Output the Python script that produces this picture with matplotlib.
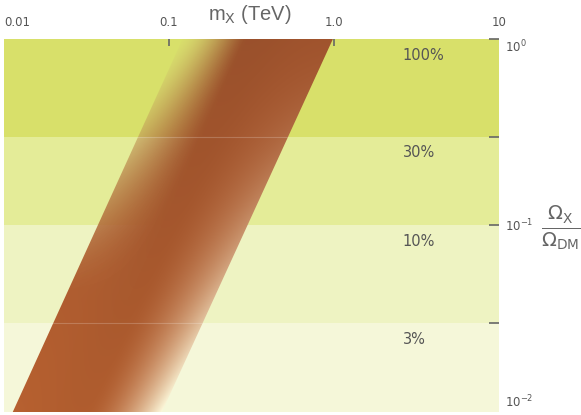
import numpy as np
import matplotlib
matplotlib.use("Agg")
import matplotlib.pyplot as plt
from matplotlib.patches import Polygon

# ---- data ----
band_low = [0.3, 0.1, 0.03, 0.01]
band_high = [1.0, 0.3, 0.1, 0.03]
band_labels = ["100%", "30%", "10%", "3%"]
band_colors = ["#d8e06a", "#e4ec98", "#eef3c2", "#f5f7d9"]

omega_edges = [0.01, 1.0]          # Omega_X / Omega_DM at band ends
mass_left = [0.0113, 0.121]        # TeV, left edge of allowed strip
mass_right = [0.0905, 0.985]       # TeV, right edge of allowed strip

xticks = [0.1, 1.0]
xlabel_pos = [0.01, 0.1, 1.0, 10]
xticklabels = ["0.01", "0.1", "1.0", "10"]
yticks = [1.0, 0.3, 0.1, 0.03]
ytick_labels = {1.0: r"$10^{0}$", 0.1: r"$10^{-1}$", 0.01: r"$10^{-2}$"}

fig = plt.figure(figsize=(5.81, 4.15), dpi=100)
ax = fig.add_axes([4/581, 3/415, 495/581, 373/415])
ax.set_xscale("log")
ax.set_yscale("log")
ax.set_xlim(0.01, 10)
ax.set_ylim(0.01, 1.0)
ax.set_autoscale_on(False)

for lo, hi, c in zip(band_low, band_high, band_colors):
    ax.axhspan(lo, hi, color=c, lw=0, zorder=0)
for lab, hi in zip(band_labels, band_high):
    ax.text(2.6, hi * 0.82, lab, ha="left", va="center", fontsize=10.5,
            color="#555555", zorder=5)

# ---- gradient strip ----
ny, nx = 600, 900
X = np.linspace(-2, 1, nx)
Y = np.linspace(-2, 0, ny)
XX, YY = np.meshgrid(X, Y)
ly0, ly1 = np.log10(omega_edges)
v = np.clip((YY - ly0) / (ly1 - ly0), 0, 1)
lx = np.log10(mass_left[0]) + v * (np.log10(mass_left[1]) - np.log10(mass_left[0]))
rx = np.log10(mass_right[0]) + v * (np.log10(mass_right[1]) - np.log10(mass_right[0]))
u = (XX - lx) / (rx - lx)

top = np.array([0.63, 0.33, 0.18])
bot = np.array([0.72, 0.38, 0.19])
vv = v[..., None]
col = bot * (1 - vv) + top * vv
centre = 1 - 0.04 * np.exp(-((u - 0.45) / 0.3) ** 2)
col = col * centre[..., None]

# bottom-right fade to cream
w = (np.clip((u - 0.5) / 0.5, 0, 1) ** 1.8) * (1 - v) ** 1.6
cream = np.array([0.99, 0.975, 0.86])
col = col * (1 - w[..., None]) + cream * w[..., None]

# top-left fade toward the background
f = (np.clip((0.42 - u) / 0.42, 0, 1) ** 1.3) * (np.clip((v - 0.3) / 0.7, 0, 1) ** 1.5)
light = np.array([0.84, 0.80, 0.47])
col = col * (1 - f[..., None]) + light * f[..., None]
alpha = 1 - 0.9 * f
alpha = np.where((u >= -0.01) & (u <= 1.01), alpha, 0.0)

img = np.dstack([np.clip(col, 0, 1), alpha])
im = ax.imshow(img, extent=[0, 1, 0, 1], transform=ax.transAxes, origin="lower",
               aspect="auto", interpolation="bilinear", zorder=2)
poly = Polygon([(mass_left[0], omega_edges[0]), (mass_left[1], omega_edges[1]),
                (mass_right[1], omega_edges[1]), (mass_right[0], omega_edges[0])],
               closed=True, transform=ax.transData, facecolor="none", edgecolor="none")
ax.add_patch(poly)
im.set_clip_path(poly)

for yb in [0.3, 0.03]:
    ln = ax.axhline(yb, color="white", alpha=0.2, lw=0.8, zorder=3)
    ln.set_clip_path(poly)

ax.set_xlim(0.01, 10)
ax.set_ylim(0.01, 1.0)

# ---- axes styling ----
for s in ax.spines.values():
    s.set_visible(False)
ax.xaxis.set_ticks_position("top")
ax.yaxis.set_ticks_position("right")
ax.set_xticks(xticks)
ax.set_xticklabels([])
ax.set_yticks(yticks)
ax.set_yticklabels([])
ax.minorticks_off()
ax.tick_params(axis="x", direction="in", length=5, width=1.2, color="#666666")
ax.tick_params(axis="y", direction="in", length=7, width=1.2, color="#666666")

for xt, lab in zip(xlabel_pos, xticklabels):
    ha = "left" if xt == 0.01 else "center"
    ax.text(xt, 1.045, lab, transform=ax.get_xaxis_transform(), ha=ha,
            va="center", fontsize=8.5, color="#555555")

ytrans = ax.get_yaxis_transform()
ax.text(1.012, 1.0, ytick_labels[1.0], transform=ytrans, ha="left", va="top",
        fontsize=8.5, color="#555555")
ax.text(1.012, 0.1, ytick_labels[0.1], transform=ytrans, ha="left", va="center",
        fontsize=8.5, color="#555555")
ax.text(1.012, 0.0102, ytick_labels[0.01], transform=ytrans, ha="left", va="bottom",
        fontsize=8.5, color="#555555")

fig.text(250/581, 1 - 14/415, r"m$_{\rm X}$ (TeV)", ha="center", va="center",
         fontsize=14.5, color="#666666", family="Liberation Sans")
fig.text(561/581, 1 - 228/415, r"$\frac{\Omega_{\rm X}}{\Omega_{\rm DM}}$",
         ha="center", va="center", fontsize=20, color="#666666")

fig.savefig("out.png", dpi=100)
